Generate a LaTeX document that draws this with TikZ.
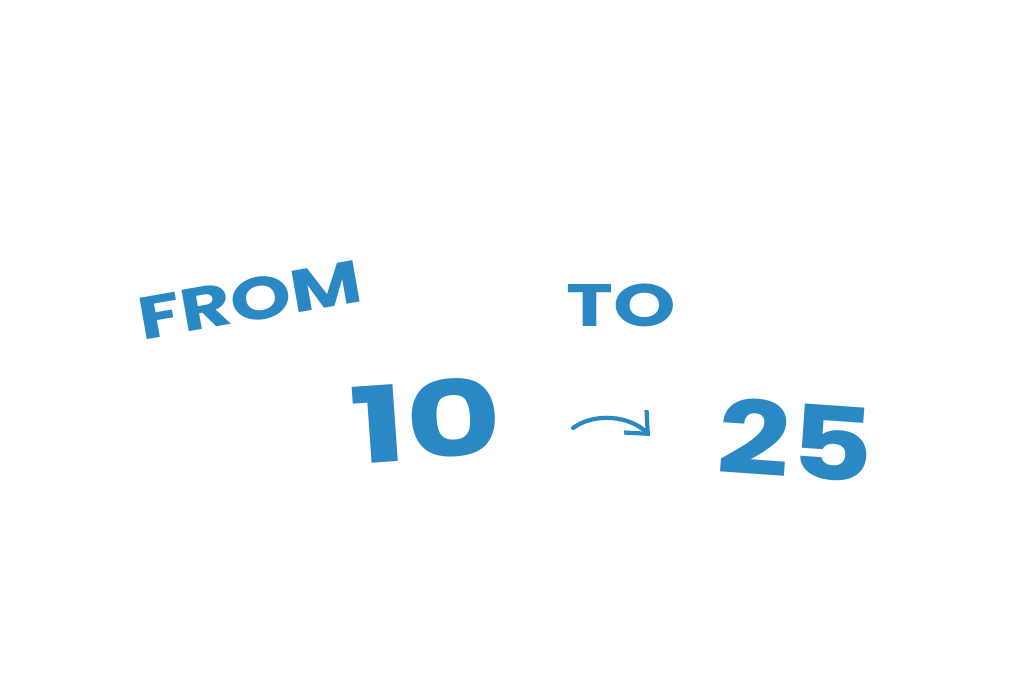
\documentclass[tikz,border=0pt]{standalone}
\usepackage{fontspec}
\usetikzlibrary{arrows.meta}
\setmainfont{Poppins}
\definecolor{blu}{HTML}{2A89C5}
\tikzset{lbl/.style={text=blu,font=\bfseries,inner sep=0pt}}
\begin{document}
\begin{tikzpicture}[x=0.01cm,y=-0.01cm]
\useasboundingbox[fill=white] (0,0) rectangle (1024,697);
\node[lbl,rotate=10,xscale=1.3,font=\bfseries\fontsize{17}{17}\selectfont] (from) at (250,300) {FROM};
\node[lbl,xscale=1.33,font=\bfseries\fontsize{17}{17}\selectfont] (to) at (621,305) {TO};
\node[lbl,rotate=4,xscale=1.4,font=\bfseries\fontsize{30}{30}\selectfont] (ten) at (426,420) {10};
\node[lbl,rotate=-4,xscale=1.25,font=\bfseries\fontsize{29}{29}\selectfont] (tf) at (796,440) {25};
\coordinate (a1) at (573,428);
\coordinate (a2) at (650,436);
\draw[blu,line width=1.2pt,line cap=round,-{Straight Barb[length=5pt,width=9pt]}] (a1) .. controls (595,412) and (630,416) .. (a2);
\end{tikzpicture}
\end{document}
